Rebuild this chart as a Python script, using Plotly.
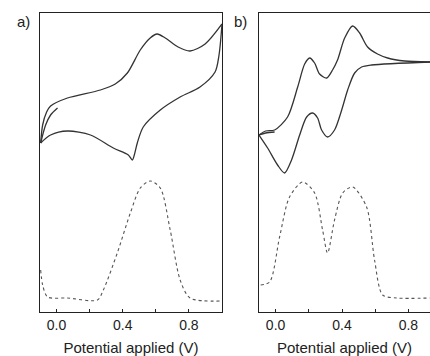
import plotly.graph_objects as go

# ---------------- Panel a data (potential V, current arb. units) ----------------
a_fwd_v = [-0.096, -0.084, -0.06, -0.036, 0.066, 0.265, 0.355, 0.428, 0.506, 0.566, 0.608, 0.657, 0.735, 0.807, 0.898, 1.0]
a_fwd_i = [169, 187, 200, 206, 214, 222, 228, 239, 262, 274, 278, 274, 265, 261, 268, 288]
a_rev_v = [1.0, 0.982, 0.958, 0.867, 0.747, 0.627, 0.524, 0.488, 0.47, 0.458, 0.434, 0.343, 0.205, 0.066, -0.036, -0.096]
a_rev_i = [288, 257, 240, 225, 215, 202, 185, 169, 157, 152, 157, 164, 177, 181, 177, 169]
a_init_v = [0.006, -0.036, -0.066, -0.096]
a_init_i = [204, 197, 187, 169]
a_dpv_v = [-0.096, -0.084, -0.054, 0.066, 0.247, 0.283, 0.367, 0.446, 0.506, 0.566, 0.627, 0.687, 0.747, 0.807, 1.0]
a_dpv_i = [42, 27, 15, 14, 12, 22, 59, 99, 124, 131, 124, 82, 32, 14, 11]

# ---------------- Panel b data ----------------
b_fwd_v = [-0.1, -0.06, -0.006, 0.072, 0.133, 0.175, 0.205, 0.235, 0.265, 0.307, 0.343, 0.373, 0.416, 0.464, 0.506, 0.554, 0.614, 0.675, 0.777, 0.93]
b_fwd_i = [177, 181, 182, 195, 225, 248, 254, 249, 238, 234, 242, 252, 274, 286, 279, 265, 258, 254, 251, 250]
b_rev_v = [0.93, 0.578, 0.518, 0.476, 0.434, 0.398, 0.355, 0.313, 0.277, 0.253, 0.223, 0.187, 0.145, 0.096, 0.054, 0.012, -0.048, -0.1]
b_rev_i = [250, 247, 245, 239, 222, 202, 182, 175, 182, 194, 199, 195, 177, 152, 139, 147, 164, 177]
b_init_v = [-0.1, -0.06, -0.006]
b_init_i = [177, 179, 180]
b_dpv_v = [-0.09, -0.036, 0.024, 0.084, 0.163, 0.235, 0.283, 0.313, 0.355, 0.404, 0.464, 0.548, 0.596, 0.645, 0.729, 0.93]
b_dpv_i = [27, 30, 75, 115, 130, 119, 82, 59, 92, 119, 125, 105, 52, 17, 14, 14]

tick_vals = [0.0, 0.2, 0.4, 0.6, 0.8]
tick_text = ["0.0", "", "0.4", "", "0.8"]
x_title = "Potential applied (V)"

cv_color = "#333333"
dpv_color = "#555555"

fig = go.Figure()

def add(v, i, xa, ya, dashed=False):
    fig.add_trace(go.Scatter(
        x=v, y=i, xaxis=xa, yaxis=ya, mode="lines",
        line=dict(color=dpv_color if dashed else cv_color,
                  width=1.1 if dashed else 1.3,
                  dash="dot" if dashed else "solid",
                  shape="spline", smoothing=0.8),
        showlegend=False, hoverinfo="skip"))

add(a_fwd_v, a_fwd_i, "x", "y")
add(a_rev_v, a_rev_i, "x", "y")
add(a_init_v, a_init_i, "x", "y")
add(a_dpv_v, a_dpv_i, "x", "y", dashed=True)
add(b_fwd_v, b_fwd_i, "x2", "y2")
add(b_rev_v, b_rev_i, "x2", "y2")
add(b_init_v, b_init_i, "x2", "y2")
add(b_dpv_v, b_dpv_i, "x2", "y2", dashed=True)

tick_font = dict(family="Liberation Sans, Arial, sans-serif", size=14, color="#222222")
title_font = dict(family="Liberation Sans, Arial, sans-serif", size=15, color="#222222")
common_x = dict(
    tickmode="array", tickvals=tick_vals, ticktext=tick_text,
    ticks="inside", ticklen=3, tickwidth=1, tickcolor="#222222",
    showline=True, linecolor="#222222", linewidth=1,
    showgrid=False, zeroline=False, tickfont=tick_font, automargin=False,
    title=dict(text=x_title, font=title_font, standoff=10),
)
common_y = dict(range=[0, 299], showticklabels=False, ticks="",
                showline=True, linecolor="#222222", linewidth=1,
                showgrid=False, zeroline=False, automargin=False)

fig.update_layout(
    width=430, height=356,
    margin=dict(l=0, r=0, t=13, b=44, pad=0),
    paper_bgcolor="white", plot_bgcolor="white",
    xaxis=dict(domain=[40 / 430, 222 / 430], range=[-0.1, 1.0], mirror=True, anchor="y", **common_x),
    yaxis=dict(domain=[0, 1], mirror=True, anchor="x", **common_y),
    xaxis2=dict(domain=[259 / 430, 1.0], range=[-0.1, 0.93], mirror=True, anchor="y2", **common_x),
    yaxis2=dict(domain=[0, 1], mirror=False, anchor="x2", **common_y),
    annotations=[
        dict(text="a)", x=23, y=22, xref="paper", yref="paper", showarrow=False),
        dict(text="b)", x=240, y=22, xref="paper", yref="paper", showarrow=False),
    ],
)
# convert pixel-based label positions to paper coordinates
for ann in fig.layout.annotations:
    ann.x = ann.x / 430
    ann.y = 1 + (13 - ann.y) / 299
    ann.font = dict(family="Liberation Sans, Arial, sans-serif", size=15, color="#222222")
    ann.xanchor = "center"
    ann.yanchor = "middle"

fig.write_html("out.html", config={"displayModeBar": False},
               post_script="document.body.style.margin='0';")
